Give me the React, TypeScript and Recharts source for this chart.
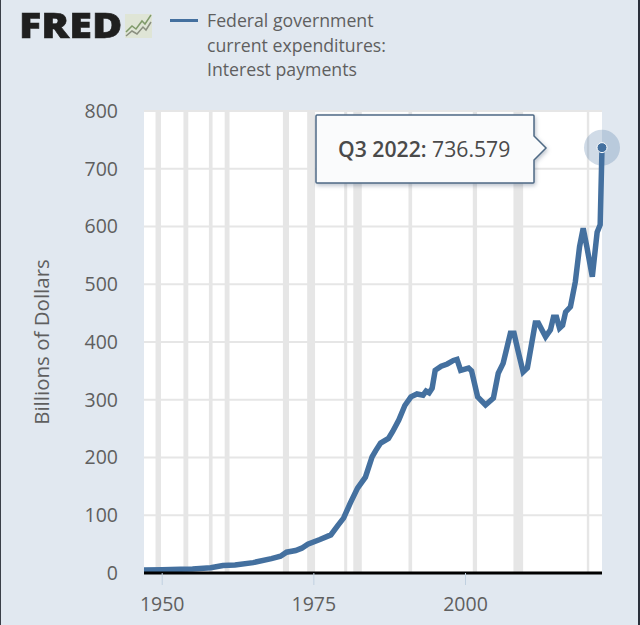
// Federal government interest payments, FRED style: line with recession bands and a fixed callout.
import {
  LineChart,
  Line,
  XAxis,
  YAxis,
  CartesianGrid,
  ReferenceArea,
  ReferenceDot,
} from 'recharts'

const years = [
  1947, 1950, 1953, 1955, 1958, 1960, 1962, 1965, 1968, 1969.5, 1970.5, 1972, 1973, 1974, 1976, 1977.8,
  1979, 1979.9, 1981, 1982.2, 1983.5, 1984.6, 1985.2, 1986, 1987.3, 1988, 1989, 1990, 1991, 1992, 1993,
  1993.5, 1994, 1994.5, 1995, 1996, 1997, 1998, 1998.6, 1999.2, 2000.5, 2001, 2002, 2003.3, 2004.6, 2005.4,
  2006.2, 2007.4, 2008, 2008.7, 2009.5, 2010.2, 2011.5, 2012, 2013.2, 2014, 2014.5, 2015, 2015.5, 2016,
  2016.5, 2017.3, 2018.1, 2018.8, 2019.4, 2020, 2020.9, 2021.7, 2022.2, 2022.5,
]
const interest = [
  5, 5.5, 6.5, 7, 9, 13, 14, 18, 25, 29, 36, 39, 43, 50, 58, 66,
  83, 95, 121, 147, 166, 201, 212, 225, 233, 245, 265, 290, 305, 310, 308,
  315, 312, 320, 351, 358, 362, 368, 370, 351, 355, 350, 305, 291, 303, 346,
  363, 415, 415, 383, 348, 355, 433, 433, 409, 421, 443, 443, 424, 429,
  452, 461, 504, 565, 597, 565, 513, 590, 603, 736.579,
]
const yTicks = [0, 100, 200, 300, 400, 500, 600, 700, 800]
const xTicks = [1950, 1975, 2000]
const recessions = [
  [1948.9, 1949.8],
  [1953.5, 1954.3],
  [1957.7, 1958.3],
  [1960.3, 1961.1],
  [1969.9, 1970.9],
  [1973.9, 1975.2],
  [1980, 1980.5],
  [1981.5, 1982.9],
  [1990.6, 1991.2],
  [2001.2, 2001.9],
  [2007.9, 2009.5],
  [2020, 2020.4],
]

const data = years.map((year, i) => ({ year, interest: interest[i] }))
const lastYear = years[years.length - 1]
const lastValue = interest[interest.length - 1]

const BLUE = '#44709f'
const TEXT = '#5f5f5f'
const FONT = '"Open Sans", sans-serif'

function ChartLegend() {
  return (
    <div
      style={{
        position: 'absolute',
        left: 170,
        top: 8,
        display: 'flex',
        fontFamily: FONT,
        fontSize: 17.7,
        lineHeight: '24.5px',
        color: TEXT,
      }}
    >
      <div style={{ width: 28, height: 3, background: BLUE, marginTop: 11, marginRight: 9 }} />
      <div>
        Federal government
        <br />
        current expenditures:
        <br />
        Interest payments
      </div>
    </div>
  )
}

function Logo() {
  return (
    <div style={{ position: 'absolute', left: 19, top: 0 }}>
      <span
        style={{
          display: 'inline-block',
          fontFamily: FONT,
          fontWeight: 800,
          fontSize: 35,
          lineHeight: '50px',
          color: '#1f1f1f',
          WebkitTextStroke: '0.6px #1f1f1f',
          transform: 'scaleX(1.18)',
          transformOrigin: 'left center',
        }}
      >
        FRED
      </span>
      <svg width={30} height={28} style={{ position: 'absolute', left: 105, top: 12 }}>
        <rect x={1} y={2} width={27} height={24} fill="#dfe5d6" />
        <polyline points="2,20 8,14 12,17 18,9 21,12 27,3" fill="none" stroke="#7f9a6a" strokeWidth={1.5} />
        <polyline points="2,24 8,19 13,22 19,15 22,18 27,10" fill="none" stroke="#8a8f80" strokeWidth={1.5} />
      </svg>
    </div>
  )
}

function Callout() {
  return (
    <div style={{ position: 'absolute', left: 314, top: 113 }}>
      <svg width={240} height={78} style={{ position: 'absolute', left: 0, top: 0 }}>
        <path
          d="M3,2 H219 a1,1 0 0 1 1,1 V23 L232,35 L220,47 V69 a1,1 0 0 1 -1,1 H3 a1,1 0 0 1 -1,-1 V3 a1,1 0 0 1 1,-1 Z"
          fill="#fafbfc"
          stroke="#4f6a85"
          strokeWidth={1.5}
          style={{ filter: 'drop-shadow(1px 2px 2px rgba(60,80,110,0.35))' }}
        />
      </svg>
      <div
        style={{
          position: 'absolute',
          left: 24,
          top: 22,
          whiteSpace: 'nowrap',
          fontFamily: FONT,
          fontSize: 21.2,
          lineHeight: '28px',
          color: '#4a4a4a',
        }}
      >
        <span style={{ fontWeight: 600 }}>Q3 2022:</span> {lastValue}
      </div>
    </div>
  )
}

export default function App() {
  return (
    <div style={{ position: 'absolute', left: 0, top: 0, width: 640, height: 625, background: '#e1e8f0', overflow: 'hidden' }}>
      <LineChart
        width={640}
        height={625}
        data={data}
        margin={{ top: 111, right: 38, left: 0, bottom: 0 }}
      >
        <CartesianGrid vertical={false} fill="#ffffff" stroke="#e6e6e6" strokeWidth={2} />
        {recessions.map(([start, end]) => (
          <ReferenceArea key={start} x1={start} x2={end} fill="#e6e6e6" fillOpacity={1} stroke="none" />
        ))}
        <XAxis
          dataKey="year"
          type="number"
          domain={[1947, lastYear]}
          ticks={xTicks}
          height={52}
          tick={{ fontSize: 19.5, fill: TEXT, fontFamily: FONT }}
          tickSize={12}
          tickMargin={12}
          tickLine={{ stroke: '#c0d0e0' }}
          axisLine={{ stroke: '#000000', strokeWidth: 3 }}
        />
        <YAxis
          type="number"
          domain={[0, 800]}
          ticks={yTicks}
          width={144}
          tick={{ fontSize: 19.5, fill: TEXT, fontFamily: FONT }}
          tickLine={false}
          axisLine={false}
          tickMargin={20}
          label={{
            value: 'Billions of Dollars',
            angle: -90,
            position: 'insideLeft',
            offset: 42,
            style: { fontSize: 20.5, fill: TEXT, fontFamily: FONT, textAnchor: 'middle' },
          }}
        />
        <Line
          type="linear"
          dataKey="interest"
          stroke={BLUE}
          strokeWidth={5.5}
          dot={false}
          isAnimationActive={false}
        />
        <ReferenceDot x={lastYear} y={lastValue} r={18} fill={BLUE} fillOpacity={0.25} stroke="none" ifOverflow="visible" />
        <ReferenceDot x={lastYear} y={lastValue} r={5} fill={BLUE} stroke="#ffffff" strokeWidth={1} ifOverflow="visible" />
      </LineChart>
      <ChartLegend />
      <Logo />
      <Callout />
      {/* screenshot edges in the reference */}
      <div style={{ position: 'absolute', left: 0, top: 0, width: 1, height: 625, background: '#3a3f48' }} />
      <div style={{ position: 'absolute', right: 0, top: 0, width: 2, height: 625, background: '#2a2f3a' }} />
    </div>
  )
}
